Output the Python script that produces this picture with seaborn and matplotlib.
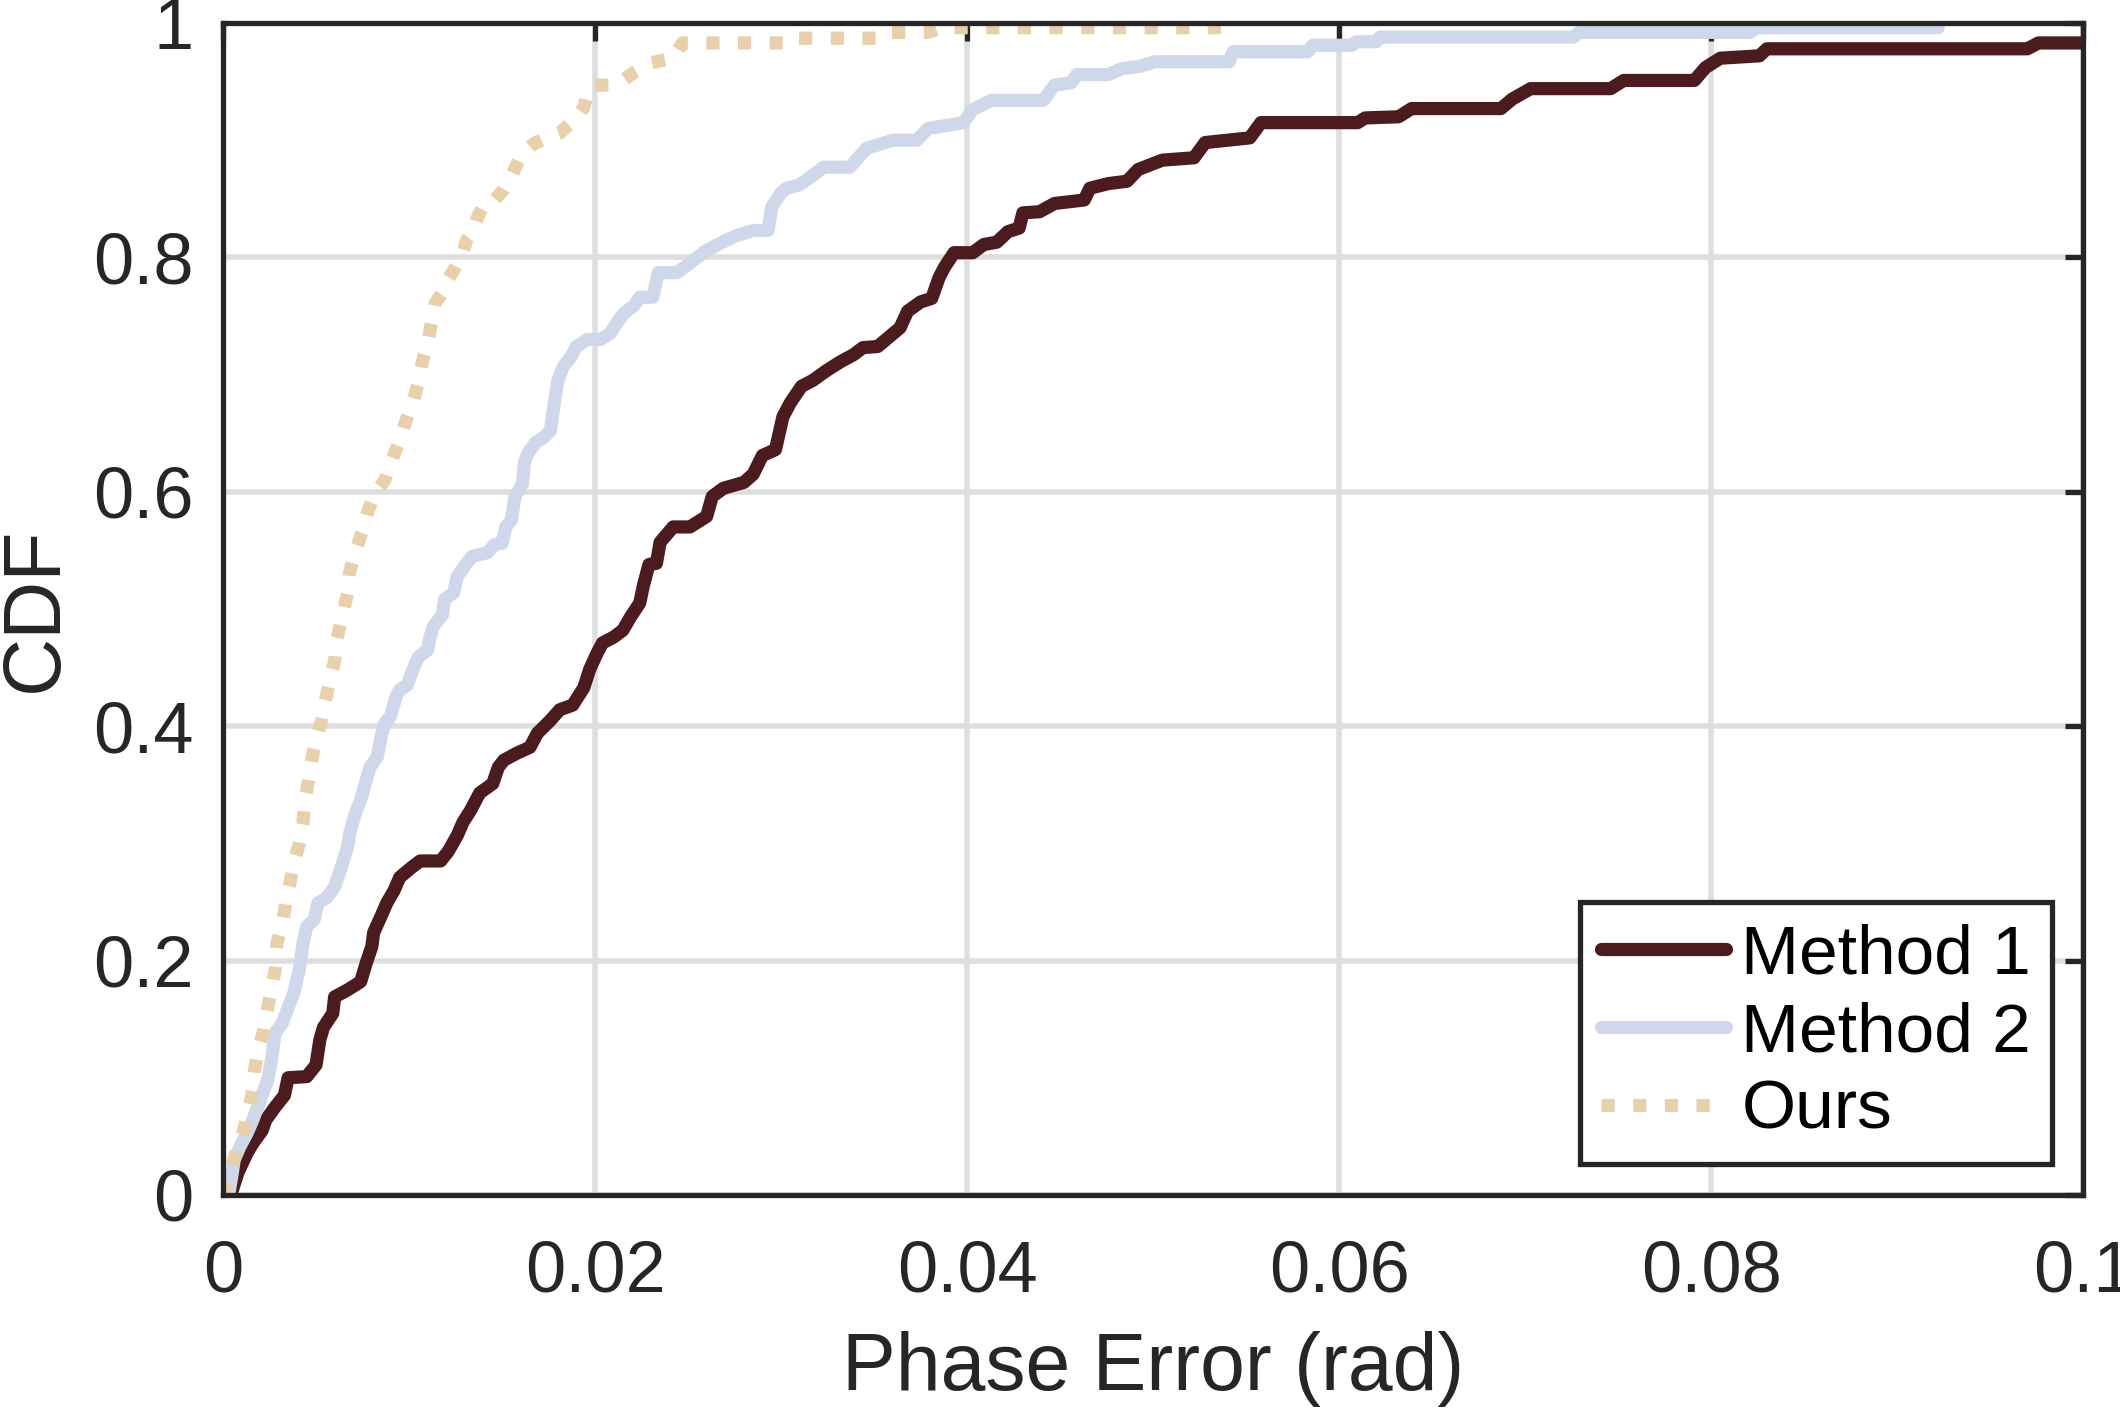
import matplotlib
matplotlib.use('Agg')
import matplotlib.pyplot as plt
import seaborn as sns

# CDF breakpoints
m1_x = [0.0003, 0.0005, 0.0008, 0.0013, 0.0016, 0.0021, 0.0023, 0.0028, 0.0033, 0.0035,
        0.0045, 0.0050, 0.0052, 0.0054, 0.0059, 0.0060, 0.0067, 0.0074, 0.0077, 0.0080,
        0.0081, 0.0085, 0.0088, 0.0092, 0.0095, 0.0101, 0.0106, 0.0117, 0.0121, 0.0126,
        0.0129, 0.0133, 0.0138, 0.0145, 0.0148, 0.0151, 0.0158, 0.0165, 0.0169, 0.0176,
        0.0181, 0.0188, 0.0194, 0.0197, 0.0201, 0.0204, 0.0210, 0.0215, 0.0219, 0.0224,
        0.0226, 0.0229, 0.0233, 0.0235, 0.0242, 0.0251, 0.0260, 0.0263, 0.0269, 0.0280,
        0.0285, 0.0290, 0.0297, 0.0301, 0.0305, 0.0311, 0.0317, 0.0325, 0.0332, 0.0339,
        0.0344, 0.0352, 0.0358, 0.0364, 0.0368, 0.0375, 0.0381, 0.0385, 0.0388, 0.0393,
        0.0403, 0.0409, 0.0416, 0.0422, 0.0428, 0.0430, 0.0439, 0.0447, 0.0463, 0.0466,
        0.0476, 0.0486, 0.0492, 0.0505, 0.0522, 0.0528, 0.0552, 0.0558, 0.0610, 0.0614,
        0.0632, 0.0639, 0.0687, 0.0693, 0.0703, 0.0746, 0.0753, 0.0791, 0.0797, 0.0805,
        0.0826, 0.0830, 0.0970, 0.0976, 0.1010]
m1_y = [0.000, 0.004, 0.019, 0.036, 0.044, 0.055, 0.064, 0.075, 0.085, 0.100,
        0.101, 0.111, 0.132, 0.143, 0.155, 0.169, 0.175, 0.182, 0.198, 0.212,
        0.224, 0.238, 0.249, 0.260, 0.271, 0.279, 0.285, 0.285, 0.293, 0.307,
        0.318, 0.328, 0.343, 0.351, 0.365, 0.371, 0.377, 0.382, 0.394, 0.405,
        0.414, 0.418, 0.433, 0.448, 0.462, 0.471, 0.476, 0.482, 0.493, 0.505,
        0.520, 0.538, 0.539, 0.557, 0.570, 0.570, 0.579, 0.596, 0.603, 0.608,
        0.615, 0.631, 0.636, 0.664, 0.676, 0.690, 0.695, 0.704, 0.711, 0.717,
        0.723, 0.724, 0.732, 0.740, 0.754, 0.762, 0.765, 0.783, 0.792, 0.804,
        0.804, 0.811, 0.813, 0.822, 0.825, 0.838, 0.839, 0.846, 0.849, 0.859,
        0.863, 0.865, 0.875, 0.883, 0.885, 0.898, 0.902, 0.915, 0.915, 0.919,
        0.920, 0.927, 0.927, 0.935, 0.944, 0.944, 0.951, 0.951, 0.962, 0.970,
        0.972, 0.978, 0.978, 0.983, 0.983]

m2_x = [0.0003, 0.0005, 0.0006, 0.0009, 0.0013, 0.0016, 0.0020, 0.0024, 0.0026, 0.0028,
        0.0032, 0.0035, 0.0038, 0.0041, 0.0043, 0.0045, 0.0049, 0.0051, 0.0056, 0.0060,
        0.0063, 0.0067, 0.0068, 0.0071, 0.0074, 0.0077, 0.0079, 0.0083, 0.0085, 0.0087,
        0.0090, 0.0093, 0.0095, 0.0099, 0.0102, 0.0105, 0.0110, 0.0111, 0.0113, 0.0118,
        0.0119, 0.0124, 0.0126, 0.0131, 0.0134, 0.0142, 0.0146, 0.0150, 0.0152, 0.0155,
        0.0157, 0.0161, 0.0162, 0.0164, 0.0168, 0.0172, 0.0176, 0.0178, 0.0180, 0.0183,
        0.0187, 0.0190, 0.0196, 0.0203, 0.0208, 0.0213, 0.0216, 0.0221, 0.0224, 0.0231,
        0.0234, 0.0244, 0.0251, 0.0259, 0.0266, 0.0275, 0.0285, 0.0293, 0.0295, 0.0300,
        0.0303, 0.0310, 0.0317, 0.0323, 0.0337, 0.0346, 0.0360, 0.0373, 0.0379, 0.0398,
        0.0403, 0.0413, 0.0441, 0.0447, 0.0456, 0.0459, 0.0476, 0.0483, 0.0493, 0.0501,
        0.0541, 0.0543, 0.0583, 0.0586, 0.0607, 0.0609, 0.0620, 0.0622, 0.0726, 0.0729,
        0.0821, 0.0824, 0.0922]
m2_y = [0.000, 0.019, 0.030, 0.041, 0.053, 0.064, 0.081, 0.098, 0.115, 0.138,
        0.147, 0.160, 0.172, 0.192, 0.215, 0.229, 0.235, 0.249, 0.254, 0.263,
        0.277, 0.297, 0.308, 0.325, 0.337, 0.354, 0.365, 0.374, 0.391, 0.403,
        0.408, 0.425, 0.431, 0.435, 0.448, 0.459, 0.465, 0.474, 0.485, 0.495,
        0.508, 0.514, 0.528, 0.539, 0.545, 0.548, 0.555, 0.556, 0.570, 0.576,
        0.596, 0.607, 0.625, 0.633, 0.642, 0.646, 0.652, 0.675, 0.695, 0.707,
        0.715, 0.724, 0.730, 0.730, 0.735, 0.747, 0.753, 0.759, 0.766, 0.766,
        0.787, 0.787, 0.795, 0.805, 0.811, 0.818, 0.823, 0.823, 0.843, 0.855,
        0.859, 0.862, 0.870, 0.877, 0.877, 0.893, 0.900, 0.900, 0.910, 0.915,
        0.926, 0.934, 0.934, 0.947, 0.949, 0.956, 0.956, 0.961, 0.963, 0.967,
        0.967, 0.9755, 0.9755, 0.981, 0.981, 0.984, 0.984, 0.988, 0.988, 0.992,
        0.992, 0.996, 0.996]

ours_x = [0.0000, 0.0004, 0.0008, 0.0011, 0.0014, 0.0016, 0.0017, 0.0019, 0.0022, 0.0024,
          0.0026, 0.0028, 0.0029, 0.0032, 0.0034, 0.0036, 0.0038, 0.0041, 0.0043, 0.0044,
          0.0046, 0.0048, 0.0050, 0.0053, 0.0055, 0.0058, 0.0060, 0.0061, 0.0064, 0.0067,
          0.0068, 0.0071, 0.0075, 0.0078, 0.0082, 0.0087, 0.0090, 0.0095, 0.0098, 0.0102,
          0.0105, 0.0107, 0.0110, 0.0112, 0.0114, 0.0118, 0.0121, 0.0125, 0.0129, 0.0131,
          0.0134, 0.0137, 0.0141, 0.0146, 0.0151, 0.0155, 0.0159, 0.0164, 0.0167, 0.0174,
          0.0181, 0.0185, 0.0190, 0.0194, 0.0196, 0.0199, 0.0211, 0.0215, 0.0221, 0.0230,
          0.0242, 0.0247, 0.0301, 0.0303, 0.0353, 0.0357, 0.0379, 0.0386, 0.0538]
ours_y = [0.000, 0.021, 0.041, 0.055, 0.073, 0.090, 0.107, 0.124, 0.141, 0.160,
          0.175, 0.192, 0.215, 0.232, 0.252, 0.266, 0.283, 0.300, 0.318, 0.337,
          0.354, 0.374, 0.388, 0.405, 0.422, 0.442, 0.456, 0.473, 0.493, 0.514,
          0.531, 0.548, 0.567, 0.584, 0.599, 0.610, 0.624, 0.644, 0.659, 0.676,
          0.693, 0.710, 0.727, 0.744, 0.761, 0.770, 0.781, 0.792, 0.804, 0.815,
          0.821, 0.835, 0.847, 0.849, 0.858, 0.869, 0.883, 0.893, 0.897, 0.902,
          0.906, 0.912, 0.919, 0.928, 0.941, 0.947, 0.947, 0.951, 0.958, 0.966,
          0.970, 0.983, 0.983, 0.987, 0.987, 0.992, 0.992, 0.996, 0.996]

x_ticks = [0, 0.02, 0.04, 0.06, 0.08, 0.1]
x_labels = ['0', '0.02', '0.04', '0.06', '0.08', '0.1']
y_ticks = [0, 0.2, 0.4, 0.6, 0.8, 1]
y_labels = ['0', '0.2', '0.4', '0.6', '0.8', '1']

sns.set_style('white')
plt.rcParams['font.family'] = ['Liberation Sans', 'DejaVu Sans']

ink = '#262626'
lw = 9.5
fig = plt.figure(figsize=(21.2, 14.12), dpi=100)
ax = fig.add_axes([0.1052, 0.1537, 0.8774, 0.8300])

sns.lineplot(x=m1_x, y=m1_y, estimator=None, sort=False, color='#4b1b1d',
             linewidth=lw, solid_joinstyle='round', solid_capstyle='round',
             label='Method 1', ax=ax)
sns.lineplot(x=m2_x, y=m2_y, estimator=None, sort=False, color='#cfd8ea',
             linewidth=lw, solid_joinstyle='round', solid_capstyle='round',
             label='Method 2', ax=ax)
sns.lineplot(x=ours_x, y=ours_y, estimator=None, sort=False, color='#e8d1aa',
             linewidth=lw, linestyle=(0, (1, 1.4)), dash_capstyle='butt',
             label='Ours', ax=ax)

ax.set_xlim(0, 0.1)
ax.set_ylim(0, 1)
ax.set_xticks(x_ticks)
ax.set_xticklabels(x_labels)
ax.set_yticks(y_ticks)
ax.set_yticklabels(y_labels)
ax.grid(True, color='#dedede', linewidth=4)
ax.set_axisbelow(True)

for s in ax.spines.values():
    s.set_visible(True)
    s.set_color(ink)
    s.set_linewidth(3.8)

ax.tick_params(axis='both', direction='in', length=13, width=3.8, color=ink,
               labelcolor=ink, labelsize=52, top=True, right=True)
ax.tick_params(axis='x', pad=32)
ax.tick_params(axis='y', pad=21)

ax.set_xlabel('Phase Error (rad)', fontsize=58, color=ink, labelpad=18)
ax.set_ylabel('CDF', fontsize=58, color=ink, labelpad=14)

leg = ax.legend(loc='lower right', fontsize=50, frameon=True, fancybox=False,
                framealpha=1, edgecolor=ink, handlelength=1.8, handletextpad=0.22,
                borderpad=0.3, labelspacing=0.2, borderaxespad=0.45)
leg.get_frame().set_linewidth(3.8)
for t in leg.get_texts():
    t.set_color('black')

fig.savefig('out.png', dpi=100)
